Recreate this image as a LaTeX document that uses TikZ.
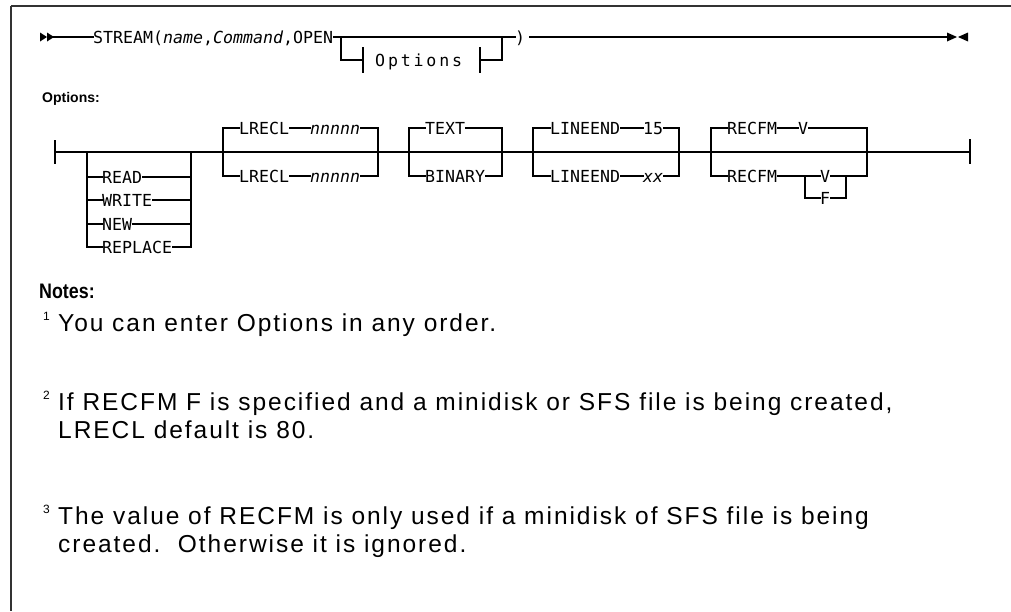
\documentclass[tikz,border=0pt]{standalone}
\usepackage{fontspec}
\setmainfont{Liberation Sans}
\newfontfamily\synfont{DejaVu Sans Mono}[ItalicFont={DejaVu Sans Mono Oblique}]
\newfontfamily\synwide{DejaVu Sans Mono}[LetterSpace=17]
\newfontfamily\notefont{Liberation Sans}[LetterSpace=8]
\begin{document}
\begin{tikzpicture}[x=1pt,y=-1pt,
  rail/.style={line width=1.3pt, line cap=rect},
  frameline/.style={draw=black!80},
  syn/.style={font={\synfont\fontsize{16.6}{18}\selectfont}, inner sep=0pt,
              text height=12pt, text depth=0pt, anchor=west},
  head/.style={font={\bfseries\fontsize{14}{16}\selectfont}, inner sep=0pt, anchor=base west},
  nhead/.style={font={\bfseries\fontsize{21}{24}\selectfont}, inner sep=0pt, anchor=base west},
  note/.style={font={\notefont\fontsize{24.5}{28}\selectfont}, inner sep=0pt, anchor=base west},
  sup/.style={font={\fontsize{12}{14}\selectfont}, inner sep=0pt, anchor=base west},
  tipfill/.style={fill=black}]
\useasboundingbox (0,0) rectangle (1011,611);

% frame
\draw[frameline, line width=2.4pt] (11,6) -- (1011,6);
\draw[frameline, line width=1.6pt] (11,6) -- (11,611);

% ---------- main statement ----------
\fill[tipfill] (40,32.5) -- (47,37) -- (40,41.5) -- cycle;
\fill[tipfill] (47,32.5) -- (54,37) -- (47,41.5) -- cycle;
\coordinate (m1) at (54,37);
\node[syn] (stream) at (93,37) {STREAM(\textit{name},\textit{Command},OPEN};
\coordinate (j1) at (341,37);
\coordinate (j2) at (502,37);
\coordinate (j1b) at (341,60);
\coordinate (j2b) at (502,60);
\node[syn] (rp) at (515,37) {)};
\draw[rail] (m1) -- (stream.west);
\draw[rail] (stream.east) -- (j1) -- (j2) -- (rp.west);
% optional fragment reference
\coordinate (tl) at (363,60);
\coordinate (tr) at (480,60);
\draw[rail] (j1) -- (j1b) -- (tl);
\draw[rail] (363,48) -- (363,72);
\node[syn, font={\synwide\fontsize{16.6}{18}\selectfont}] (optref) at (375,60) {Options};
\draw[rail] (480,48) -- (480,72);
\draw[rail] (tr) -- (j2b) -- (j2);
\coordinate (mend) at (947,37);
\draw[rail] (rp.east) ++(4,0) -- (mend);
\fill[tipfill] (947,32.5) -- (957,37) -- (947,41.5) -- cycle;
\fill[tipfill] (968,32.5) -- (958,37) -- (968,41.5) -- cycle;

% ---------- Options fragment ----------
\node[head] (opthead) at (42,102) {Options:};

\coordinate (os) at (55,152);
\coordinate (oe) at (970,152);
\draw[rail] (55,141) -- (55,163);
\draw[rail] (970,140) -- (970,163);
\draw[rail] (os) -- (oe);

% group 1: READ / WRITE / NEW / REPLACE
\coordinate (g1lt) at (87,152);  \coordinate (g1lb) at (87,247);
\coordinate (g1rt) at (191,152); \coordinate (g1rb) at (191,247);
\node[syn] (read)    at (102,177) {READ};
\node[syn] (write)   at (102,200) {WRITE};
\node[syn] (new)     at (102,224) {NEW};
\node[syn] (replace) at (102,247) {REPLACE};
\draw[rail] (g1lt) -- (g1lb) -- (replace.west);
\draw[rail] (replace.east) -- (g1rb) -- (g1rt);
\foreach \n in {read,write,new}{
  \draw[rail] (87,0 |- \n.west) -- (\n.west);
  \draw[rail] (\n.east) -- (191,0 |- \n.east);
}

% group 2: LRECL
\coordinate (g2lt) at (223,128); \coordinate (g2lb) at (223,176);
\coordinate (g2rt) at (378,128); \coordinate (g2rb) at (378,176);
\node[syn] (lrA) at (239,128) {LRECL};
\node[syn] (nA)  at (310,128) {\textit{nnnnn}};
\node[syn] (lrB) at (239,176) {LRECL};
\node[syn] (nB)  at (310,176) {\textit{nnnnn}};
\draw[rail] (g2lt) -- (g2lb);
\draw[rail] (g2rt) -- (g2rb);
\draw[rail] (g2lt) -- (lrA.west);  \draw[rail] (lrA.east) -- (nA.west);  \draw[rail] (nA.east) -- (g2rt);
\draw[rail] (g2lb) -- (lrB.west);  \draw[rail] (lrB.east) -- (nB.west);  \draw[rail] (nB.east) -- (g2rb);

% group 3: TEXT / BINARY
\coordinate (g3lt) at (409,128); \coordinate (g3lb) at (409,176);
\coordinate (g3rt) at (502,128); \coordinate (g3rb) at (502,176);
\node[syn] (text)   at (425,128) {TEXT};
\node[syn] (binary) at (425,176) {BINARY};
\draw[rail] (g3lt) -- (g3lb);
\draw[rail] (g3rt) -- (g3rb);
\draw[rail] (g3lt) -- (text.west);   \draw[rail] (text.east) -- (g3rt);
\draw[rail] (g3lb) -- (binary.west); \draw[rail] (binary.east) -- (g3rb);

% group 4: LINEEND
\coordinate (g4lt) at (533,128); \coordinate (g4lb) at (533,176);
\coordinate (g4rt) at (679,128); \coordinate (g4rb) at (679,176);
\node[syn] (leA) at (550,128) {LINEEND};
\node[syn] (v15) at (643,128) {15};
\node[syn] (leB) at (550,176) {LINEEND};
\node[syn] (vxx) at (643,176) {\textit{xx}};
\draw[rail] (g4lt) -- (g4lb);
\draw[rail] (g4rt) -- (g4rb);
\draw[rail] (g4lt) -- (leA.west); \draw[rail] (leA.east) -- (v15.west); \draw[rail] (v15.east) -- (g4rt);
\draw[rail] (g4lb) -- (leB.west); \draw[rail] (leB.east) -- (vxx.west); \draw[rail] (vxx.east) -- (g4rb);

% group 5: RECFM
\coordinate (g5lt) at (711,128); \coordinate (g5lb) at (711,176);
\coordinate (g5rt) at (867,128); \coordinate (g5rb) at (867,176);
\node[syn] (rfA) at (727,128) {RECFM};
\node[syn] (vA)  at (798,128) {V};
\node[syn] (rfB) at (727,176) {RECFM};
\node[syn] (vB)  at (820,176) {V};
\node[syn] (fB)  at (820,198) {F};
\coordinate (g6lt) at (805,176); \coordinate (g6lb) at (805,198);
\coordinate (g6rt) at (846,176); \coordinate (g6rb) at (846,198);
\draw[rail] (g5lt) -- (g5lb);
\draw[rail] (g5rt) -- (g5rb);
\draw[rail] (g5lt) -- (rfA.west); \draw[rail] (rfA.east) -- (vA.west); \draw[rail] (vA.east) -- (g5rt);
\draw[rail] (g5lb) -- (rfB.west); \draw[rail] (rfB.east) -- (g6lt) -- (vB.west);
\draw[rail] (vB.east) -- (g6rt) -- (g5rb);
\draw[rail] (g6lt) -- (g6lb) -- (fB.west);
\draw[rail] (fB.east) -- (g6rb) -- (g6rt);

% ---------- notes ----------
\node[nhead] (notes) at (39,298) {\scalebox{0.85}[1]{Notes:}};
\node[sup]  (s1) at (43,320) {1};
\node[note] (n1) at (58,331) {You can enter Options in any order.};
\node[sup]  (s2) at (43,399) {2};
\node[note] (n2a) at (58,410) {If RECFM F is specified and a minidisk or SFS file is being created,};
\node[note] (n2b) at (58,438) {LRECL default is 80.};
\node[sup]  (s3) at (43,513) {3};
\node[note] (n3a) at (58,524) {The value of RECFM is only used if a minidisk of SFS file is being};
\node[note] (n3b) at (58,552) {created.\ \ Otherwise it is ignored.};
\end{tikzpicture}
\end{document}
